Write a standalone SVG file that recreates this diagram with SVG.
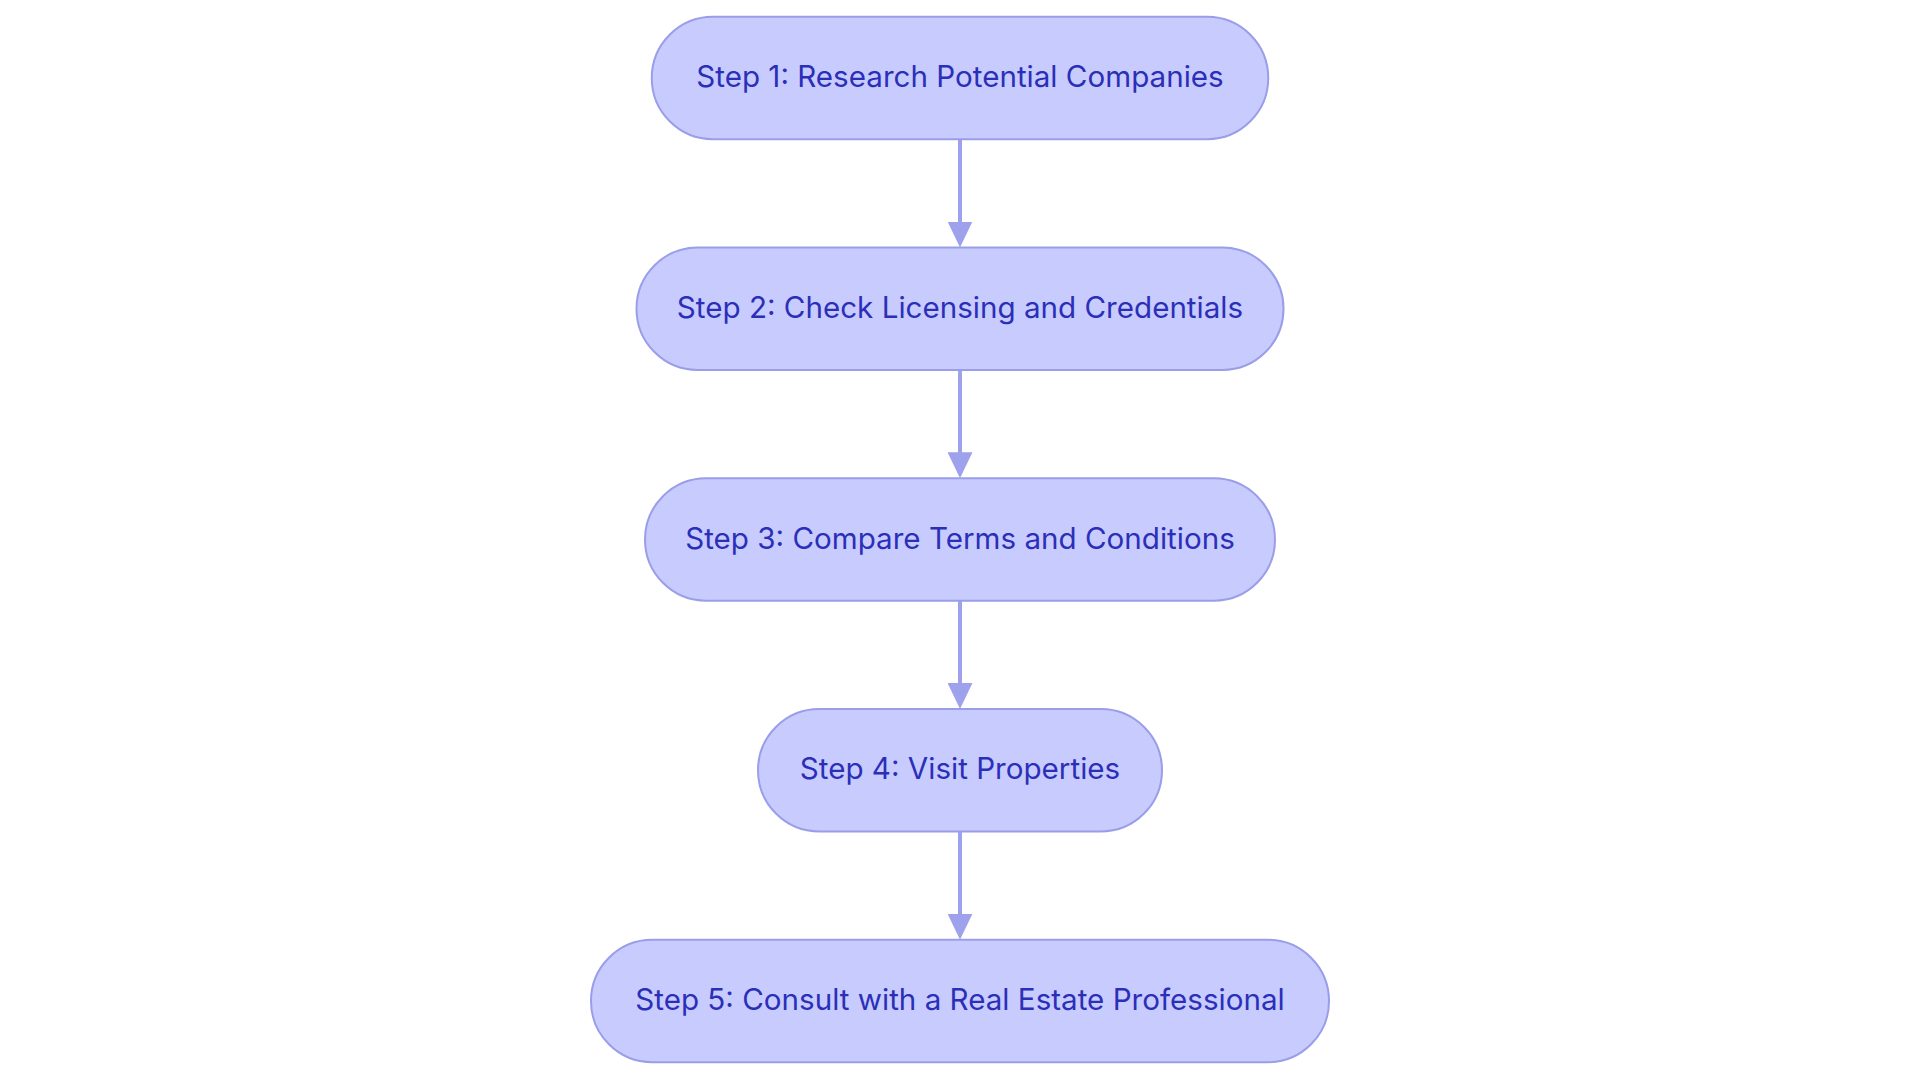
<svg xmlns="http://www.w3.org/2000/svg" width="1920" height="1083" viewBox="0 0 1920 1083">
  <defs>
    <style>
      .node rect { fill: #c8cbfe; stroke: #9a9ee8; stroke-width: 2; }
      .node text { fill: #2b2fb8; font-family: Inter, "Noto Sans", "Liberation Sans", sans-serif; font-size: 29.6px; text-anchor: middle; }
      .edge { stroke: #9ea2ec; stroke-width: 4; fill: none; }
    </style>
    <marker id="arrow" viewBox="0 0 26 25" refX="2" refY="12.5" markerWidth="26" markerHeight="25" markerUnits="userSpaceOnUse" orient="auto">
      <path d="M0,0 L26,12.5 L0,25 z" fill="#9ea2ec"/>
    </marker>
  </defs>
  <rect width="1920" height="1083" fill="#ffffff"/>
  <g id="connectors">
    <line class="edge" x1="960" y1="139.25" x2="960" y2="223.5" marker-end="url(#arrow)"/>
    <line class="edge" x1="960" y1="370" x2="960" y2="454.25" marker-end="url(#arrow)"/>
    <line class="edge" x1="960" y1="600.75" x2="960" y2="685" marker-end="url(#arrow)"/>
    <line class="edge" x1="960" y1="831.5" x2="960" y2="915.75" marker-end="url(#arrow)"/>
  </g>
  <g id="step1" class="node">
    <rect x="651.75" y="16.75" width="616.5" height="122.5" rx="61.25" ry="61.25"/>
    <text x="960" y="87">Step 1: Research Potential Companies</text>
  </g>
  <g id="step2" class="node">
    <rect x="636.5" y="247.5" width="647" height="122.5" rx="61.25" ry="61.25"/>
    <text x="960" y="317.75">Step 2: Check Licensing and Credentials</text>
  </g>
  <g id="step3" class="node">
    <rect x="645" y="478.25" width="630" height="122.5" rx="61.25" ry="61.25"/>
    <text x="960" y="548.5">Step 3: Compare Terms and Conditions</text>
  </g>
  <g id="step4" class="node">
    <rect x="758" y="709" width="404" height="122.5" rx="61.25" ry="61.25"/>
    <text x="960" y="779.25">Step 4: Visit Properties</text>
  </g>
  <g id="step5" class="node">
    <rect x="591" y="939.75" width="738" height="122.5" rx="61.25" ry="61.25"/>
    <text x="960" y="1010">Step 5: Consult with a Real Estate Professional</text>
  </g>
</svg>
